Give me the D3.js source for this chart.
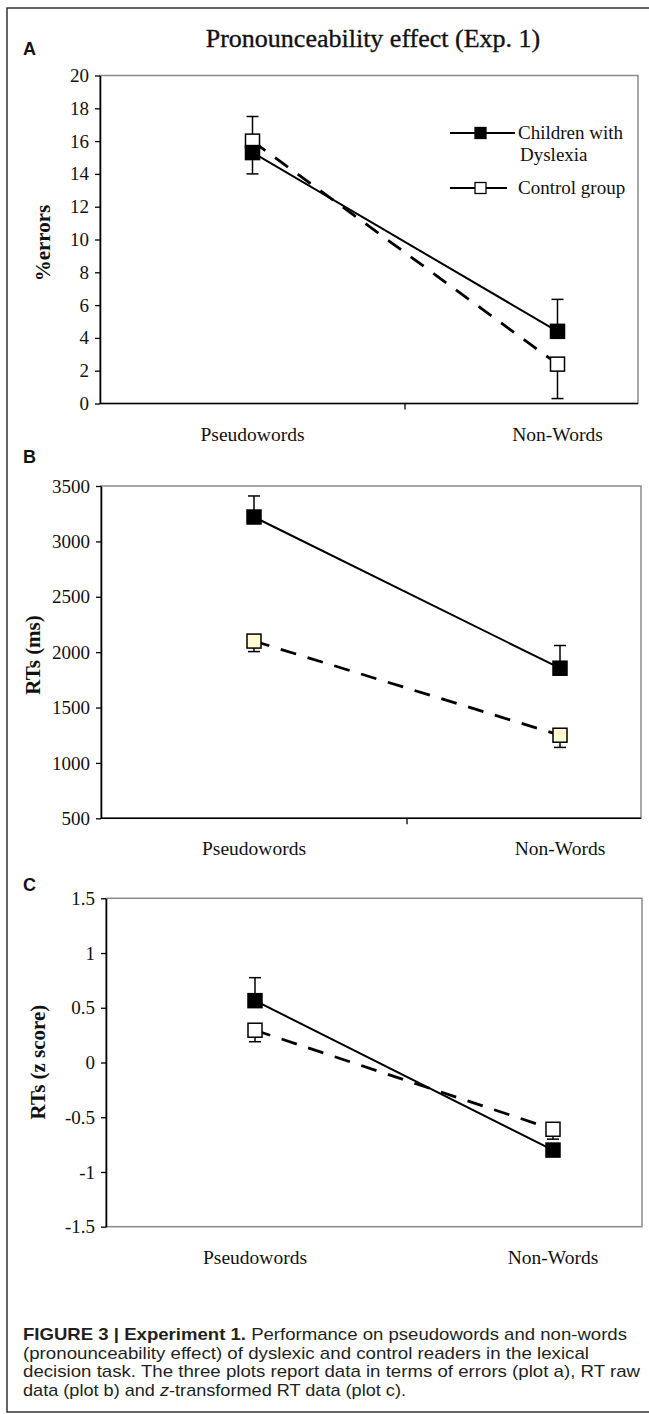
<!DOCTYPE html>
<html><head><meta charset="utf-8">
<script src="https://cdn.jsdelivr.net/npm/d3@7"></script>
<style>
body{margin:0;background:#fff}
svg{display:block}
.serif{font-family:"Liberation Serif","Times New Roman",serif}
</style>
</head><body>
<svg id="chart" width="649" height="1414"></svg>
<script>
// ---------- data ----------
const categories = ["Pseudowords", "Non-Words"];
const seriesNames = ["Children with Dyslexia", "Control group"];

// Panel A: % errors
const errTicks = [0, 2, 4, 6, 8, 10, 12, 14, 16, 18, 20];
const errDyslexia = [15.3, 4.4];
const errControl = [16.0, 2.4];
const errDyslexiaBarEnd = [14.0, 6.35];
const errControlBarEnd = [17.5, 0.3];

// Panel B: RTs (ms)
const rtTicks = [500, 1000, 1500, 2000, 2500, 3000, 3500];
const rtDyslexia = [3220, 1855];
const rtControl = [2100, 1250];
const rtDyslexiaBarEnd = [3410, 2060];
const rtControlBarEnd = [2005, 1140];

// Panel C: RTs (z score)
const zTicks = [-1.5, -1, -0.5, 0, 0.5, 1, 1.5];
const zDyslexia = [0.565, -0.80];
const zControl = [0.295, -0.61];
const zDyslexiaBarEnd = [0.775, null];
const zControlBarEnd = [0.19, -0.70];

// ---------- drawing ----------
const svg = d3.select("#chart");

// outer frame
svg.append("path")
  .attr("d", "M649,8 H7 V1412 H649")
  .attr("fill", "none").attr("stroke", "#333").attr("stroke-width", 1.5);

function panel(cfg, dys, ctl, dysBar, ctlBar, ticks) {
  const g = svg.append("g").attr("class", "serif");
  const y = d3.scaleLinear().domain([ticks[0], ticks[ticks.length - 1]]).range([cfg.bottom, cfg.top]);
  const x = d3.scaleBand().domain(categories).range([cfg.left, cfg.left + 2 * cfg.band]);
  const cx = c => x(c) + x.bandwidth() / 2;

  // plot area border (grey)
  g.append("rect")
    .attr("x", cfg.left).attr("y", cfg.top)
    .attr("width", cfg.right - cfg.left).attr("height", cfg.bottom - cfg.top)
    .attr("fill", "none").attr("stroke", "#8a8a8a").attr("stroke-width", 1.5);

  // y axis
  const ya = g.append("g").attr("transform", `translate(${cfg.left},0)`)
    .call(d3.axisLeft(y).tickValues(ticks).tickSize(5).tickSizeOuter(0).tickPadding(6).tickFormat(d => String(d)));
  ya.select(".domain").attr("stroke", "#000").attr("stroke-width", 1.6);
  ya.selectAll(".tick line").attr("stroke", "#000").attr("stroke-width", 1.3);
  ya.selectAll(".tick text").attr("font-family", '"Liberation Serif",serif').attr("font-size", 19).attr("fill", "#111");

  // x axis
  if (cfg.xAxis) {
    g.append("line").attr("x1", cfg.left).attr("x2", cfg.right)
      .attr("y1", y(ticks[0])).attr("y2", y(ticks[0]))
      .attr("stroke", "#000").attr("stroke-width", 1.6);
    g.append("line").attr("x1", x(categories[1])).attr("x2", x(categories[1]))
      .attr("y1", y(ticks[0])).attr("y2", y(ticks[0]) + 6)
      .attr("stroke", "#000").attr("stroke-width", 1.3);
  }
  // category labels
  g.selectAll(".cat").data(categories).enter().append("text")
    .attr("x", d => cx(d)).attr("y", cfg.bottom + 37)
    .attr("text-anchor", "middle").attr("font-size", 19.5).attr("fill", "#111")
    .text(d => d);

  // y label
  g.append("text")
    .attr("transform", `translate(${cfg.ylabX},${cfg.ylabY}) rotate(-90)`)
    .attr("text-anchor", "middle").attr("font-size", 21).attr("font-weight", "bold").attr("fill", "#111")
    .text(cfg.ylabel);

  // panel letter
  svg.append("text").attr("x", 23).attr("y", cfg.letterY)
    .attr("font-family", '"Liberation Sans",Arial,sans-serif').attr("font-weight", "bold")
    .attr("font-size", 18).attr("fill", "#111").text(cfg.letter);

  const line = d3.line().x((v, i) => cx(categories[i])).y(v => y(v));

  // error bars
  function bars(vals, ends) {
    categories.forEach((c, i) => {
      if (ends[i] == null) return;
      g.append("line").attr("x1", cx(c)).attr("x2", cx(c))
        .attr("y1", y(vals[i])).attr("y2", y(ends[i]))
        .attr("stroke", "#000").attr("stroke-width", 1.5);
      g.append("line").attr("x1", cx(c) - 6).attr("x2", cx(c) + 6)
        .attr("y1", y(ends[i])).attr("y2", y(ends[i]))
        .attr("stroke", "#000").attr("stroke-width", 1.5);
    });
  }
  bars(ctl, ctlBar);
  bars(dys, dysBar);

  // lines
  g.append("path").datum(ctl).attr("d", line)
    .attr("fill", "none").attr("stroke", "#000").attr("stroke-width", 2.8)
    .attr("stroke-dasharray", "16,12");
  g.append("path").datum(dys).attr("d", line)
    .attr("fill", "none").attr("stroke", "#000").attr("stroke-width", 2);

  // markers
  const s = 14;
  g.selectAll(".mc").data(ctl).enter().append("rect")
    .attr("x", (v, i) => cx(categories[i]) - s / 2).attr("y", v => y(v) - s / 2)
    .attr("width", s).attr("height", s)
    .attr("fill", cfg.ctlFill).attr("stroke", "#000").attr("stroke-width", 1.5);
  g.selectAll(".md").data(dys).enter().append("rect")
    .attr("x", (v, i) => cx(categories[i]) - s / 2).attr("y", v => y(v) - s / 2)
    .attr("width", s).attr("height", s)
    .attr("fill", "#000").attr("stroke", "#000").attr("stroke-width", 1.5);
  return g;
}

panel({letter: "A", letterY: 55, left: 100, band: 305, right: 638, top: 75.5, bottom: 403.5,
  xAxis: true, ylabel: "%errors", ylabX: 50, ylabY: 243, ctlFill: "#fff"},
  errDyslexia, errControl, errDyslexiaBarEnd, errControlBarEnd, errTicks);

panel({letter: "B", letterY: 463, left: 101, band: 306, right: 641, top: 486, bottom: 818.3,
  xAxis: true, ylabel: "RTs (ms)", ylabX: 40, ylabY: 655, ctlFill: "#fffbd0"},
  rtDyslexia, rtControl, rtDyslexiaBarEnd, rtControlBarEnd, rtTicks);

panel({letter: "C", letterY: 891, left: 106, band: 298, right: 642, top: 898.3, bottom: 1226.7,
  xAxis: false, ylabel: "RTs (z score)", ylabX: 45, ylabY: 1062, ctlFill: "#fff"},
  zDyslexia, zControl, zDyslexiaBarEnd, zControlBarEnd, zTicks);

// title
svg.append("text").attr("class", "serif").attr("x", 373).attr("y", 47)
  .attr("text-anchor", "middle").attr("font-size", 26).attr("fill", "#111")
  .attr("stroke", "#111").attr("stroke-width", 0.35)
  .text("Pronounceability effect (Exp. 1)");

// legend (panel A)
const legend = svg.append("g").attr("class", "serif");
const legRows = [
  {name: seriesNames[0], lines: ["Children with", "Dyslexia"], y: 133, x2: 515, fill: "#000"},
  {name: seriesNames[1], lines: ["Control group"], y: 188, x2: 507, fill: "#fff"}
];
legRows.forEach(r => {
  legend.append("line").attr("x1", 450).attr("x2", r.x2).attr("y1", r.y).attr("y2", r.y)
    .attr("stroke", "#000").attr("stroke-width", 2.2);
  legend.append("rect").attr("x", 475).attr("y", r.y - 5.5).attr("width", 11).attr("height", 11)
    .attr("fill", r.fill).attr("stroke", "#000").attr("stroke-width", 1.3);
  r.lines.forEach((t, k) => {
    legend.append("text").attr("x", 518 + (k ? 2 : 0)).attr("y", r.y + 6 + k * 22)
      .attr("font-size", 19).attr("fill", "#111").text(t);
  });
});

// caption
const cap = svg.append("g").attr("font-family", "'Liberation Sans', Arial, sans-serif")
  .attr("font-size", 17).attr("fill", "#231f20");
const capLines = [
  {w: 604, parts: [{t: "FIGURE 3 | Experiment 1.", b: true}, {t: " Performance on pseudowords and non-words"}]},
  {w: 566, parts: [{t: "(pronounceability effect) of dyslexic and control readers in the lexical"}]},
  {w: 617, parts: [{t: "decision task. The three plots report data in terms of errors (plot a), RT raw"}]},
  {w: 383, parts: [{t: "data (plot b) and "}, {t: "z", i: true}, {t: "-transformed RT data (plot c)."}]}
];
capLines.forEach((ln, k) => {
  const tx = cap.append("text").attr("x", 23).attr("y", 1340 + k * 18.5)
    .attr("textLength", ln.w).attr("lengthAdjust", "spacingAndGlyphs");
  ln.parts.forEach(p => {
    tx.append("tspan").attr("font-weight", p.b ? "bold" : null)
      .attr("font-style", p.i ? "italic" : null).text(p.t);
  });
});
</script>
</body></html>
